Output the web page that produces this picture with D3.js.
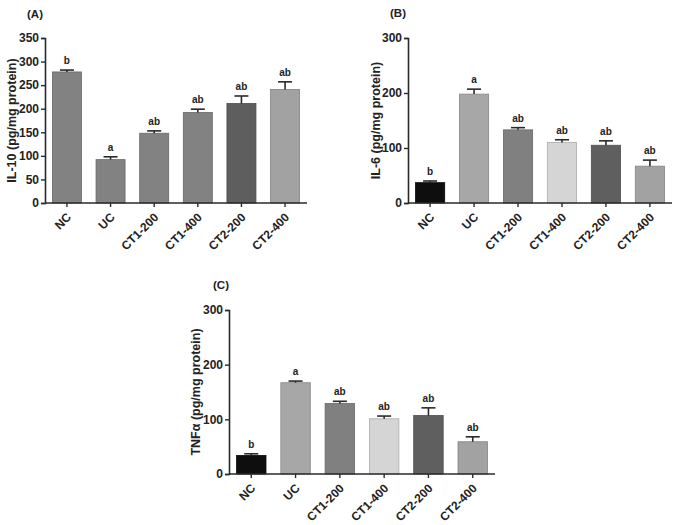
<!DOCTYPE html>
<html>
<head>
<meta charset="utf-8">
<script src="https://cdn.jsdelivr.net/npm/d3@7"></script>
<style>
  html, body { margin: 0; padding: 0; background: #fff; }
  svg { display: block; }
  text { font-family: "Liberation Sans", Arial, sans-serif; font-weight: bold; fill: #222; }
</style>
</head>
<body>
<svg id="chart" width="677" height="525"></svg>
<script>
// ---- data ----
const categories = ["NC", "UC", "CT1-200", "CT1-400", "CT2-200", "CT2-400"];

const il10Values = [278, 92, 148, 192, 211, 241];
const il10Errors = [4, 6, 5, 7, 16, 16];
const il10Letters = ["b", "a", "ab", "ab", "ab", "ab"];
const il10Ticks = [0, 50, 100, 150, 200, 250, 300, 350];

const il6Values = [37, 198, 133, 110, 105, 67];
const il6Errors = [3, 9, 4, 5, 8, 11];
const il6Letters = ["b", "a", "ab", "ab", "ab", "ab"];
const il6Ticks = [0, 100, 200, 300];

const tnfValues = [34, 167, 129, 101, 107, 59];
const tnfErrors = [3, 3, 4, 5, 14, 9];
const tnfLetters = ["b", "a", "ab", "ab", "ab", "ab"];
const tnfTicks = [0, 100, 200, 300];

const colorsA = ["#828282", "#828282", "#828282", "#828282", "#5e5e5e", "#a2a2a2"];
const colorsBC = ["#0e0e0e", "#a7a7a7", "#808080", "#d5d5d5", "#5f5f5f", "#a2a2a2"];

// ---- layout ----
const panels = [
  { tag: "(A)", title: "IL-10 (pg/mg protein)", values: il10Values, errors: il10Errors, letters: il10Letters,
    ticks: il10Ticks, max: 350, colors: colorsA,
    x0: 45, x1: 307, y0: 203, y1: 38, tagX: 27, tagY: 18, titleX: 16 },
  { tag: "(B)", title: "IL-6 (pg/mg protein)", values: il6Values, errors: il6Errors, letters: il6Letters,
    ticks: il6Ticks, max: 300, colors: colorsBC,
    x0: 408, x1: 672, y0: 203, y1: 38, tagX: 390, tagY: 17, titleX: 380 },
  { tag: "(C)", title: "TNFα (pg/mg protein)", values: tnfValues, errors: tnfErrors, letters: tnfLetters,
    ticks: tnfTicks, max: 300, colors: colorsBC,
    x0: 229, x1: 495, y0: 474, y1: 310, tagX: 213, tagY: 289, titleX: 200 }
];

const svg = d3.select("#chart");

panels.forEach(p => {
  const g = svg.append("g");
  const x = d3.scaleBand().domain(categories).range([p.x0, p.x1])
    .paddingInner(0.335).paddingOuter(0.17);
  const y = d3.scaleLinear().domain([0, p.max]).range([p.y0, p.y1]);

  // bars
  g.selectAll("rect.bar").data(p.values).join("rect")
    .attr("class", "bar")
    .attr("x", (d, i) => x(categories[i]))
    .attr("width", x.bandwidth())
    .attr("y", d => y(d))
    .attr("height", d => y(0) - y(d))
    .attr("fill", (d, i) => p.colors[i])
    .attr("stroke", (d, i) => d3.color(p.colors[i]).darker(0.6))
    .attr("stroke-width", 0.8);

  // error bars (upper)
  const cap = 7;
  p.values.forEach((v, i) => {
    const cx = x(categories[i]) + x.bandwidth() / 2;
    const top = y(v + p.errors[i]);
    g.append("line").attr("x1", cx).attr("x2", cx).attr("y1", y(v)).attr("y2", top)
      .attr("stroke", "#2a2a2a").attr("stroke-width", 1.6);
    g.append("line").attr("x1", cx - cap).attr("x2", cx + cap).attr("y1", top).attr("y2", top)
      .attr("stroke", "#2a2a2a").attr("stroke-width", 1.6);
    g.append("text").attr("x", cx).attr("y", top - 6)
      .attr("text-anchor", "middle").attr("font-size", 10).text(p.letters[i]);
  });

  // y axis
  const yAxis = g.append("g").attr("transform", `translate(${p.x0},0)`)
    .call(d3.axisLeft(y).tickValues(p.ticks).tickSize(4).tickPadding(2));
  yAxis.select(".domain").attr("stroke", "#2a2a2a").attr("stroke-width", 1.6);
  yAxis.selectAll(".tick line").attr("stroke", "#2a2a2a").attr("stroke-width", 1.4);
  yAxis.selectAll(".tick text").attr("font-size", 12).attr("font-family", "Liberation Sans, Arial, sans-serif")
    .attr("font-weight", "bold").attr("fill", "#222");

  // x axis
  const xAxis = g.append("g").attr("transform", `translate(0,${p.y0})`)
    .call(d3.axisBottom(x).tickSize(4).tickSizeOuter(0).tickPadding(4));
  xAxis.select(".domain").attr("stroke", "#2a2a2a").attr("stroke-width", 1.6)
    .attr("d", `M${p.x0},0H${p.x1}`);
  xAxis.selectAll(".tick line").attr("stroke", "#2a2a2a").attr("stroke-width", 1.4);
  xAxis.selectAll(".tick text")
    .attr("font-size", 12).attr("font-family", "Liberation Sans, Arial, sans-serif")
    .attr("font-weight", "bold").attr("fill", "#222")
    .attr("text-anchor", "end")
    .attr("x", 0).attr("y", 0)
    .attr("dx", 0).attr("dy", "0.35em")
    .attr("transform", "translate(2,12) rotate(-45)");

  // y title
  const cy = (p.y0 + p.y1) / 2;
  g.append("text").attr("transform", `translate(${p.titleX},${cy}) rotate(-90)`)
    .attr("text-anchor", "middle").attr("font-size", 12.5).text(p.title);

  // panel tag
  g.append("text").attr("x", p.tagX).attr("y", p.tagY).attr("font-size", 11.5).text(p.tag);
});
</script>
</body>
</html>
